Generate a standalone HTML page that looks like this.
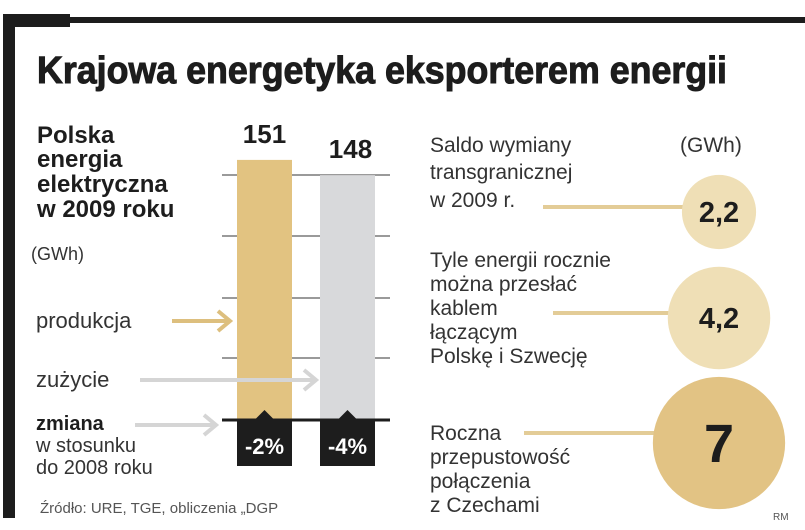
<!DOCTYPE html>
<html><head><meta charset="utf-8"><style>
html,body{margin:0;padding:0;background:#fff;}
svg{display:block;font-family:"Liberation Sans",sans-serif;}
</style></head><body>
<svg id="chart" width="805" height="530" viewBox="0 0 805 530">
<rect x="3" y="14" width="67" height="13" fill="#1d1d1d"/>
<rect x="70" y="17" width="735" height="6" fill="#1d1d1d"/>
<rect x="3" y="14" width="12" height="504" fill="#1d1d1d"/>
<text x="37" y="83" font-size="38" font-weight="bold" fill="#1d1d1d" stroke="#1d1d1d" stroke-width="1" textLength="690" lengthAdjust="spacingAndGlyphs">Krajowa energetyka eksporterem energii</text>

<g font-size="24" font-weight="bold" fill="#1d1d1d">
<text x="37" y="143">Polska</text><text x="37" y="167">energia</text><text x="37" y="192">elektryczna</text><text x="37" y="217">w 2009 roku</text>
</g>
<text x="31" y="260" font-size="18" fill="#333">(GWh)</text>
<text x="36" y="328" font-size="22" fill="#333">produkcja</text>
<text x="36" y="387" font-size="22" fill="#333">zużycie</text>
<text x="36" y="430" font-size="20" font-weight="bold" fill="#1d1d1d">zmiana</text>
<text x="36" y="452" font-size="20" fill="#333">w stosunku</text>
<text x="36" y="474" font-size="20" fill="#333">do 2008 roku</text>
<text x="40" y="513" font-size="15" fill="#555">Źródło: URE, TGE, obliczenia „DGP</text>

<g id="grid"></g>
<g id="bars"></g>

<g stroke-width="4" fill="none">
<path d="M172 321 H228 M218 311 L230 321 L218 331" stroke="#ddbf7e"/>
<path d="M140 380 H314 M304 370 L316 380 L304 390" stroke="#d5d5d5"/>
<path d="M135 425 H214 M204 415 L216 425 L204 435" stroke="#d5d5d5"/>
</g>

<g font-size="21" fill="#333">
<text x="430" y="152">Saldo wymiany</text><text x="430" y="179">transgranicznej</text><text x="430" y="207">w 2009 r.</text>
<text x="430" y="267">Tyle energii rocznie</text><text x="430" y="291">można przesłać</text><text x="430" y="315">kablem</text><text x="430" y="339">łączącym</text><text x="430" y="363">Polskę i Szwecję</text>
<text x="430" y="440">Roczna</text><text x="430" y="464">przepustowość</text><text x="430" y="488">połączenia</text><text x="430" y="512">z Czechami</text>
<text x="680" y="152">(GWh)</text>
</g>
<g id="circles"></g>
<text x="773" y="520" font-size="10" fill="#555">RM</text>
</svg>
<script>
const barCategories = ["produkcja", "zużycie"];
const barValues = [151, 148];
const changeLabels = ["-2%", "-4%"];
const bubbleValues = [2.2, 4.2, 7];
const bubbleLabels = ["2,2", "4,2", "7"];

const NS = "http://www.w3.org/2000/svg";
const baseY = 420, yMin = 100, pxPerUnit = 5.1;
function yScale(v){ return baseY - (v - yMin) * pxPerUnit; }
function xBand(i){ return 237 + i * 83; }
function rScale(v){ return 25 * Math.sqrt(v); }
const barW = 55;
const barColors = ["#e2c381", "#d8d9db"];
function mk(tag, attrs, parent){ const e=document.createElementNS(NS,tag); for(const k in attrs) e.setAttribute(k, attrs[k]); parent.appendChild(e); return e; }

const grid = document.getElementById("grid");
[175, 236, 298, 358].forEach(y=>{
  const l = mk("line",{x1:222,x2:390,y1:y,y2:y,stroke:"#9a9a9a","stroke-width":2},grid);
  
  
});
const bars = document.getElementById("bars");
barValues.forEach((v,i)=>{
  const x = xBand(i), y = yScale(v);
  const r = mk("rect",{x:x,y:y,width:barW,height:baseY-y,fill:barColors[i]},bars);
  
  
  const t = mk("text",{x:x+barW/2+(i===0?0:3),y:y-17,"font-size":26,"font-weight":"bold",fill:"#1d1d1d","text-anchor":"middle"},bars);
  t.textContent = String(v);
  
  
  const b = mk("rect",{x:x,y:baseY,width:barW,height:46,fill:"#1d1d1d"},bars);
  
  
  const n = mk("path",{d:`M${x+barW/2-10} ${baseY} L${x+barW/2} ${baseY-10} L${x+barW/2+10} ${baseY} Z`,fill:"#1d1d1d"},bars);
  
  
  const c = mk("text",{x:x+barW/2,y:baseY+34,"font-size":22,"font-weight":"bold",fill:"#fff","text-anchor":"middle"},bars);
  c.textContent = changeLabels[i];
  
  
});
const base = mk("line",{x1:222,x2:390,y1:baseY,y2:baseY,stroke:"#1d1d1d","stroke-width":3},bars);



const circles = document.getElementById("circles");
const cys = [212, 318, 443], lineX1 = [543, 553, 524], lineY = [207, 313, 433];
const cColors = ["#efdfb6", "#efdfb6", "#e2c384"];
bubbleValues.forEach((v,i)=>{
  const rad = rScale(v);
  const ln = mk("line",{x1:lineX1[i],x2:719-rad+2,y1:lineY[i],y2:lineY[i],stroke:"#e3cc97","stroke-width":4},circles);
  
  
  const c = mk("circle",{cx:719,cy:cys[i],r:rad,fill:cColors[i]},circles);
  
  
  const t = mk("text",{x:719,y:cys[i]+(i===2?19:10),"font-size":i===2?54:29,"font-weight":"bold",fill:"#1d1d1d","text-anchor":"middle"},circles);
  t.textContent = bubbleLabels[i];
  
  
});
</script>
</body></html>
